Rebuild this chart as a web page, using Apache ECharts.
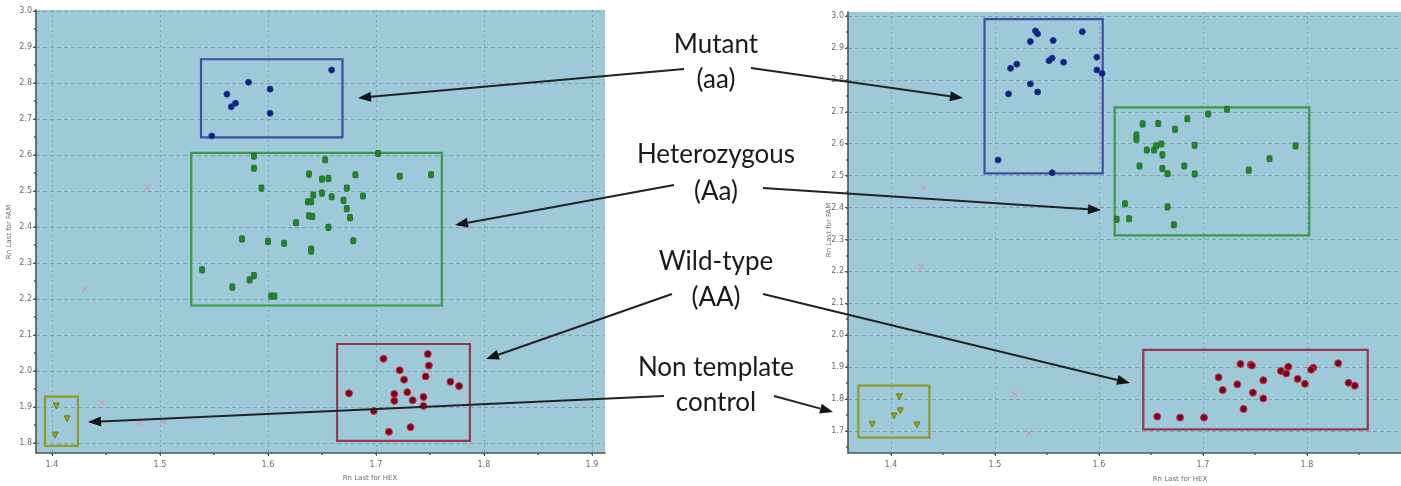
<!DOCTYPE html>
<html>
<head>
<meta charset="utf-8">
<script src="https://cdn.jsdelivr.net/npm/echarts@6/dist/echarts.min.js"></script>
<style>
  html, body { margin: 0; padding: 0; background: #ffffff; }
  #chart { width: 1401px; height: 486px; }
</style>
</head>
<body>
<div id="chart"></div>
<script>
// ---- Allele discrimination plot, run 1 (left panel) ----
// Each point: [Rn Last for HEX, Rn Last for FAM]
const leftMutant = [[1.659,2.836],[1.582,2.802],[1.562,2.769],[1.602,2.783],[1.566,2.734],[1.570,2.744],[1.602,2.716],[1.548,2.653]];
const leftHetero = [
  [1.587,2.597],[1.587,2.563],[1.594,2.508],[1.653,2.587],[1.702,2.604],[1.638,2.547],[1.650,2.533],[1.656,2.535],
  [1.681,2.545],[1.722,2.541],[1.751,2.545],[1.673,2.508],[1.642,2.489],[1.650,2.494],[1.659,2.484],[1.688,2.486],
  [1.637,2.470],[1.640,2.470],[1.670,2.474],[1.673,2.451],[1.638,2.431],[1.641,2.429],[1.676,2.426],[1.626,2.412],
  [1.656,2.399],[1.576,2.367],[1.600,2.360],[1.615,2.355],[1.679,2.362],[1.640,2.339],[1.640,2.333],[1.539,2.281],
  [1.587,2.265],[1.583,2.253],[1.567,2.233],[1.603,2.208],[1.606,2.208]
];
const leftWild = [
  [1.748,2.047],[1.707,2.034],[1.749,2.015],[1.722,2.002],[1.746,1.985],[1.726,1.976],[1.769,1.970],[1.777,1.958],
  [1.675,1.938],[1.729,1.941],[1.717,1.936],[1.717,1.917],[1.734,1.919],[1.744,1.928],[1.744,1.903],[1.698,1.889],
  [1.732,1.844],[1.712,1.831]
];
const leftNtc = [[1.404,1.903],[1.414,1.867],[1.403,1.822]];
const leftUndetermined = [[1.488,2.508],[1.431,2.228],[1.446,1.912],[1.480,1.856],[1.503,1.861]];

// Cluster boxes: [xFrom, yFrom, xTo, yTo]
const leftMutantBox = [1.538, 2.649, 1.669, 2.866];
const leftHeteroBox = [1.529, 2.182, 1.761, 2.606];
const leftWildBox   = [1.664, 1.806, 1.787, 2.075];
const leftNtcBox    = [1.3935, 1.792, 1.424, 1.929];

// ---- Allele discrimination plot, run 2 (right panel) ----
const rightMutant = [
  [1.539,2.953],[1.541,2.944],[1.584,2.951],[1.534,2.920],[1.556,2.923],[1.598,2.871],[1.555,2.868],[1.552,2.860],
  [1.566,2.855],[1.521,2.849],[1.515,2.836],[1.598,2.831],[1.603,2.820],[1.534,2.787],[1.541,2.762],[1.513,2.756],
  [1.503,2.549],[1.555,2.509]
];
const rightHetero = [
  [1.723,2.708],[1.705,2.693],[1.685,2.678],[1.642,2.662],[1.657,2.663],[1.673,2.645],[1.636,2.627],[1.636,2.614],
  [1.646,2.580],[1.653,2.580],[1.655,2.593],[1.660,2.599],[1.692,2.595],[1.789,2.593],[1.661,2.565],[1.764,2.553],
  [1.639,2.530],[1.661,2.522],[1.682,2.530],[1.666,2.506],[1.692,2.505],[1.744,2.517],[1.625,2.412],[1.666,2.402],
  [1.617,2.363],[1.629,2.365],[1.672,2.346]
];
const rightWild = [
  [1.736,1.910],[1.746,1.908],[1.747,1.905],[1.782,1.901],[1.775,1.888],[1.780,1.880],[1.806,1.898],[1.804,1.892],
  [1.830,1.912],[1.715,1.868],[1.758,1.859],[1.733,1.846],[1.791,1.863],[1.798,1.848],[1.719,1.828],[1.748,1.820],
  [1.758,1.802],[1.840,1.851],[1.846,1.842],[1.739,1.769],[1.656,1.745],[1.678,1.742],[1.701,1.742]
];
const rightNtc = [[1.408,1.807],[1.409,1.763],[1.403,1.747],[1.382,1.721],[1.425,1.719]];
const rightUndetermined = [[1.431,2.463],[1.429,2.215],[1.519,1.816],[1.533,1.693]];

const rightMutantBox = [1.490, 2.507, 1.6036, 2.990];
const rightHeteroBox = [1.6151, 2.313, 1.8022, 2.714];
const rightWildBox   = [1.6426, 1.705, 1.8584, 1.954];
const rightNtcBox    = [1.3686, 1.679, 1.4369, 1.842];

// Tick labels
const leftXTicks  = [1.4, 1.5, 1.6, 1.7, 1.8, 1.9];
const leftYTicks  = [1.8, 1.9, 2.0, 2.1, 2.2, 2.3, 2.4, 2.5, 2.6, 2.7, 2.8, 2.9, 3.0];
const rightXTicks = [1.4, 1.5, 1.6, 1.7, 1.8];
const rightYTicks = [1.7, 1.8, 1.9, 2.0, 2.1, 2.2, 2.3, 2.4, 2.5, 2.6, 2.7, 2.8, 2.9, 3.0];

const xAxisTitle = 'Rn Last for HEX';
const yAxisTitle = 'Rn Last for FAM';

// Group labels shown between the panels
const groupLabels = ['Mutant', '(aa)', 'Heterozygous', '(Aa)', 'Wild-type', '(AA)', 'Non template', 'control'];

// ---- styling ----
const PLOT_BG = '#9dc9d8';
const AXIS_COLOR = '#4d5558';
const GRID_COLOR = 'rgba(80,110,122,0.42)';
const LABEL_COLOR = '#6a6a6a';

const COLORS = {
  mutant: { fill: '#0e1f7c', border: '#2a3c9a', box: '#3d4fa3' },
  hetero: { fill: '#1a8a26', border: '#2f6e33', box: '#3b9a45' },
  wild:   { fill: '#7d0318', border: '#c23a55', box: '#97394e' },
  ntc:    { fill: '#93a51c', border: '#6f7d17', box: '#8e9c2e' },
  undet:  { fill: '#e28d94' }
};

const SYMBOL_X = 'path://M0,1L1,0L5,4L9,0L10,1L6,5L10,9L9,10L5,6L1,10L0,9L4,5Z';
const SYMBOL_TRI = 'path://M0,0L10,0L5,10Z';

function minorOf(ticks, lo, hi) {
  const step = ticks[1] - ticks[0];
  const out = [];
  for (let v = ticks[0] - step; v <= ticks[ticks.length - 1] + step + 1e-9; v += step / 2) {
    const r = Math.round(v * 100) / 100;
    if (r >= lo && r <= hi) out.push(r);
  }
  return out;
}

function fmt(v) { return Number(v).toFixed(1); }

function mainXAxis(gridIndex, min, max, ticks) {
  return {
    gridIndex, type: 'value', min, max, position: 'bottom',
    axisLine: { show: true, onZero: false, lineStyle: { color: AXIS_COLOR, width: 1.6 } },
    axisTick: { show: true, customValues: ticks, length: 3, lineStyle: { color: AXIS_COLOR } },
    axisLabel: { customValues: ticks, formatter: fmt, fontSize: 8, color: LABEL_COLOR, margin: 8, fontFamily: 'DejaVu Sans' },
    splitLine: { show: true, lineStyle: { type: [2, 3], color: GRID_COLOR, width: 1 } }
  };
}
function minorXAxis(gridIndex, min, max, ticks) {
  return {
    gridIndex, type: 'value', min, max, position: 'bottom', offset: 0,
    axisLine: { show: false, onZero: false },
    axisTick: { show: true, customValues: minorOf(ticks, min, max), length: 2, lineStyle: { color: AXIS_COLOR, width: 1.5 } },
    axisLabel: { show: false },
    splitLine: { show: false }
  };
}
function mainYAxis(gridIndex, min, max, ticks) {
  return {
    gridIndex, type: 'value', min, max, position: 'left',
    axisLine: { show: true, onZero: false, lineStyle: { color: AXIS_COLOR, width: 1.6 } },
    axisTick: { show: true, customValues: ticks, length: 3, lineStyle: { color: AXIS_COLOR } },
    axisLabel: { customValues: ticks, formatter: fmt, fontSize: 8, color: LABEL_COLOR, margin: 4, fontFamily: 'DejaVu Sans' },
    splitLine: { show: true, lineStyle: { type: [4, 3], color: GRID_COLOR, width: 1 } }
  };
}
function minorYAxis(gridIndex, min, max, ticks) {
  return {
    gridIndex, type: 'value', min, max, position: 'left', offset: 0,
    axisLine: { show: false, onZero: false },
    axisTick: { show: true, customValues: minorOf(ticks, min, max), length: 2, lineStyle: { color: AXIS_COLOR, width: 1.5 } },
    axisLabel: { show: false },
    splitLine: { show: false }
  };
}

function boxArea(box, color) {
  return {
    silent: true,
    itemStyle: { color: 'rgba(0,0,0,0)', borderColor: color, borderWidth: 2.2 },
    label: { show: false },
    data: [[{ coord: [box[0], box[1]] }, { coord: [box[2], box[3]] }]]
  };
}

function cluster(axisIdx, data, kind, box, symbol, size) {
  const c = COLORS[kind];
  return {
    type: 'scatter', xAxisIndex: axisIdx, yAxisIndex: axisIdx,
    data, symbol, symbolSize: size, z: 3,
    itemStyle: { color: c.fill, borderColor: c.border, borderWidth: 1, opacity: 1 },
    markArea: box ? boxArea(box, c.box) : undefined
  };
}

function undetSeries(axisIdx, data) {
  return {
    type: 'scatter', xAxisIndex: axisIdx, yAxisIndex: axisIdx,
    data, symbol: SYMBOL_X, symbolSize: 6, z: 3,
    itemStyle: { color: COLORS.undet.fill, opacity: 0.9 }
  };
}

// Annotation arrows: [x1, y1, x2, y2] with the head at (x2, y2)
const arrowPaths = [
  [684, 69, 358, 98],
  [751, 68, 963, 98],
  [674, 185, 455, 225],
  [763, 188, 1101, 210],
  [672, 294, 486, 359],
  [763, 294, 1130, 383],
  [664, 396, 88, 422],
  [774, 396, 833, 412]
];

function arrow(p) {
  const [x1, y1, x2, y2] = p;
  const a = Math.atan2(y2 - y1, x2 - x1);
  const L = 13, W = 5;
  const bx = x2 - L * Math.cos(a), by = y2 - L * Math.sin(a);
  return [
    { type: 'line', z: 100, shape: { x1, y1, x2: bx, y2: by }, style: { stroke: '#222', lineWidth: 2 } },
    { type: 'polygon', z: 100, shape: { points: [[x2, y2], [bx + W * Math.sin(a), by - W * Math.cos(a)], [bx - W * Math.sin(a), by + W * Math.cos(a)]] }, style: { fill: '#141414' } }
  ];
}

const labelY = [45, 80, 155, 192, 262, 298, 368, 403];
const textGraphics = groupLabels.map((t, i) => ({
  type: 'text', z: 100, x: 716, y: labelY[i],
  style: { text: t, textAlign: 'center', textVerticalAlign: 'middle', font: '26px Lato', fill: '#1a1a1a' }
}));

const axisTitleGraphics = [
  { type: 'text', x: 370, y: 478, style: { text: xAxisTitle, textAlign: 'center', textVerticalAlign: 'middle', font: '7px "DejaVu Sans"', fill: LABEL_COLOR } },
  { type: 'text', x: 1180, y: 479, style: { text: xAxisTitle, textAlign: 'center', textVerticalAlign: 'middle', font: '7px "DejaVu Sans"', fill: LABEL_COLOR } },
  { type: 'text', x: 9, y: 232, rotation: Math.PI / 2, style: { text: yAxisTitle, textAlign: 'center', textVerticalAlign: 'middle', font: '7px "DejaVu Sans"', fill: LABEL_COLOR } },
  { type: 'text', x: 829, y: 230, rotation: Math.PI / 2, style: { text: yAxisTitle, textAlign: 'center', textVerticalAlign: 'middle', font: '7px "DejaVu Sans"', fill: LABEL_COLOR } }
];

const L_X = [1.3852, 1.9121], L_Y = [1.7722, 3.0028];
const R_X = [1.3587, 1.8904], R_Y = [1.631, 3.0125];

const option = {
  animation: false,
  backgroundColor: '#ffffff',
  grid: [
    { left: 36, top: 10, width: 569, height: 443, show: true, backgroundColor: PLOT_BG, borderWidth: 0 },
    { left: 848, top: 12, width: 553, height: 441, show: true, backgroundColor: PLOT_BG, borderWidth: 0 }
  ],
  xAxis: [
    mainXAxis(0, L_X[0], L_X[1], leftXTicks),
    mainXAxis(1, R_X[0], R_X[1], rightXTicks),
    minorXAxis(0, L_X[0], L_X[1], leftXTicks),
    minorXAxis(1, R_X[0], R_X[1], rightXTicks)
  ],
  yAxis: [
    mainYAxis(0, L_Y[0], L_Y[1], leftYTicks),
    mainYAxis(1, R_Y[0], R_Y[1], rightYTicks),
    minorYAxis(0, L_Y[0], L_Y[1], leftYTicks),
    minorYAxis(1, R_Y[0], R_Y[1], rightYTicks)
  ],
  series: [
    cluster(0, leftMutant, 'mutant', leftMutantBox, 'circle', 6),
    cluster(0, leftHetero, 'hetero', leftHeteroBox, 'roundRect', [5, 6]),
    cluster(0, leftWild, 'wild', leftWildBox, 'circle', 7),
    cluster(0, leftNtc, 'ntc', leftNtcBox, SYMBOL_TRI, 6),
    undetSeries(0, leftUndetermined),
    cluster(1, rightMutant, 'mutant', rightMutantBox, 'circle', 6),
    cluster(1, rightHetero, 'hetero', rightHeteroBox, 'roundRect', [5, 6]),
    cluster(1, rightWild, 'wild', rightWildBox, 'circle', 7),
    cluster(1, rightNtc, 'ntc', rightNtcBox, SYMBOL_TRI, 6),
    undetSeries(1, rightUndetermined)
  ],
  graphic: [].concat(axisTitleGraphics, textGraphics, ...arrowPaths.map(arrow))
};

const chart = echarts.init(document.getElementById('chart'), null, { renderer: 'canvas' });
chart.setOption(option);
</script>
</body>
</html>
